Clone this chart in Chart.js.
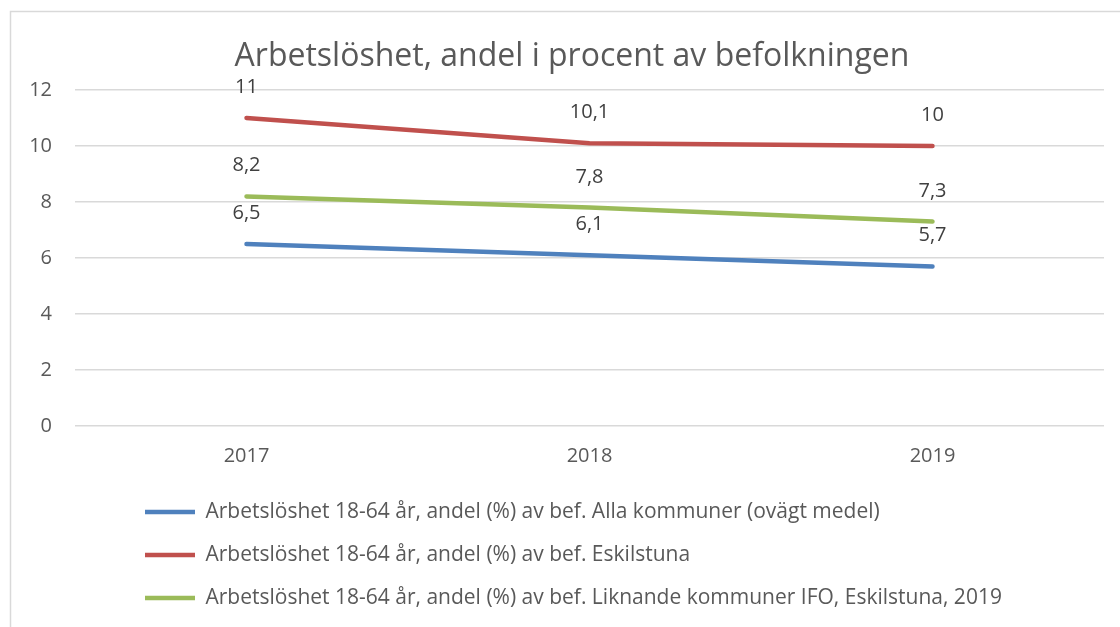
<!DOCTYPE html>
<html lang="sv">
<head>
<meta charset="utf-8">
<title>Arbetslöshet</title>
<script src="https://cdn.jsdelivr.net/npm/chart.js@4.4.1/dist/chart.umd.min.js"></script>
<style>
  html, body { margin: 0; padding: 0; background: #fff; }
  canvas { display: block; }
</style>
</head>
<body>
<canvas id="chart" width="1120" height="627"></canvas>
<script>
// data
const years = ['2017', '2018', '2019'];
const allaKommuner = [6.5, 6.1, 5.7];
const eskilstuna = [11, 10.1, 10];
const liknandeKommuner = [8.2, 7.8, 7.3];
const seriesNames = [
    'Arbetslöshet 18-64 år, andel (%) av bef. Alla kommuner (ovägt medel)',
    'Arbetslöshet 18-64 år, andel (%) av bef. Eskilstuna',
    'Arbetslöshet 18-64 år, andel (%) av bef. Liknande kommuner IFO, Eskilstuna, 2019'
];
const yMin = 0;
const yMax = 12;
const yStep = 2;
const chartTitle = 'Arbetslöshet, andel i procent av befolkningen';

const FONT = '"Open Sans", "Liberation Sans", sans-serif';
const textGrey = '#595959';
const gridGrey = '#d9d9d9';
const legendFont = 21;
const legendPad = 22;
const plotBottom = 426;   // where the 0 line sits
const legendFirstRow = 512;

// thin frame round the chart, cut off at right and bottom like in the picture
const framePlugin = {
    id: 'frame',
    beforeDraw(chart) {
        const ctx = chart.ctx;
        ctx.save();
        ctx.strokeStyle = gridGrey;
        ctx.lineWidth = 1.5;
        ctx.beginPath();
        ctx.moveTo(10.5, chart.height);
        ctx.lineTo(10.5, 11.5);
        ctx.lineTo(chart.width, 11.5);
        ctx.stroke();
        ctx.restore();
    }
};

// value labels above each point, swedish decimal comma
const valueLabels = {
    id: 'valueLabels',
    afterDatasetsDraw(chart) {
        const ctx = chart.ctx;
        ctx.save();
        ctx.font = '20px ' + FONT;
        ctx.fillStyle = '#404040';
        ctx.textAlign = 'center';
        ctx.textBaseline = 'alphabetic';
        chart.data.datasets.forEach((ds, i) => {
            chart.getDatasetMeta(i).data.forEach((pt, j) => {
                const txt = String(ds.data[j]).replace('.', ',');
                ctx.fillText(txt, pt.x, pt.y - 25);
            });
        });
        ctx.restore();
    }
};

// nudge title and legend to where Excel put them
const nudge = {
    id: 'nudge',
    afterLayout(chart) {
        const lg = chart.legend;
        lg.left += 123; lg.right += 123;
        lg.top = legendFirstRow - legendPad - legendFont / 2;
        lg.bottom = lg.top + lg.height;
        const t = chart.titleBlock;
        t.left += 20; t.right += 20;
    }
};

function drawChart() {
    const ctx = document.getElementById('chart').getContext('2d');
    const common = { borderWidth: 4.5, borderCapStyle: 'round', borderJoinStyle: 'round' };
    new Chart(ctx, {
        type: 'line',
        data: {
            labels: years,
            datasets: [
                { ...common, label: seriesNames[0], data: allaKommuner, borderColor: '#4f81bd', backgroundColor: '#4f81bd' },
                { ...common, label: seriesNames[1], data: eskilstuna, borderColor: '#c0504d', backgroundColor: '#c0504d' },
                { ...common, label: seriesNames[2], data: liknandeKommuner, borderColor: '#9bbb59', backgroundColor: '#9bbb59' }
            ]
        },
        options: {
            responsive: false,
            animation: false,
            devicePixelRatio: 1,
            layout: { padding: { left: 0, right: 16, top: 0, bottom: 0 } },
            elements: {
                line: { tension: 0 },
                point: { radius: 0, hoverRadius: 0 }
            },
            scales: {
                x: {
                    offset: true,
                    grid: { display: false, drawTicks: false },
                    border: { display: false },
                    ticks: { color: textGrey, font: { family: FONT, size: 20 }, padding: 18 },
                    afterFit(scale) {
                        scale.height = scale.chart.height - plotBottom - scale.chart.legend.height;
                    }
                },
                y: {
                    min: yMin,
                    max: yMax,
                    grid: { color: gridGrey, lineWidth: 1.5, drawTicks: false },
                    border: { display: false },
                    ticks: { stepSize: yStep, color: textGrey, font: { family: FONT, size: 20 }, padding: 23 },
                    afterFit(scale) { scale.width = 75; }
                }
            },
            plugins: {
                title: {
                    display: true,
                    text: chartTitle,
                    color: textGrey,
                    font: { family: FONT, size: 32, weight: 'normal', lineHeight: 1.2 },
                    padding: { top: 38, bottom: 13.6 }
                },
                legend: {
                    position: 'bottom',
                    align: 'start',
                    labels: {
                        color: textGrey,
                        font: { family: FONT, size: legendFont },
                        usePointStyle: true,
                        pointStyleWidth: 50,
                        pointStyle: 'line',
                        padding: legendPad
                    }
                },
                tooltip: { enabled: false }
            }
        },
        plugins: [framePlugin, valueLabels, nudge]
    });
}

document.fonts.load('20px "Open Sans"').then(drawChart, drawChart);
</script>
</body>
</html>
